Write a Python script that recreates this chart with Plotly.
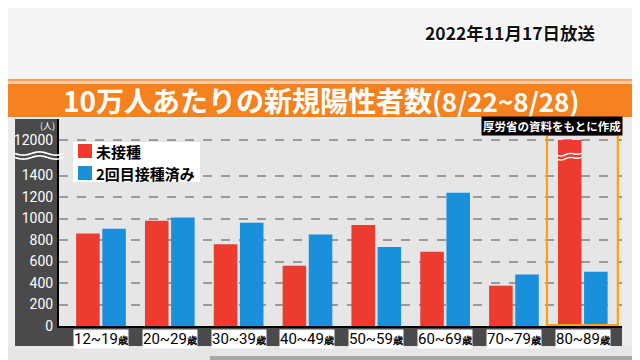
import math
import plotly.graph_objects as go

# ---------------- data ----------------
categories = ["12~19歳", "20~29歳", "30~39歳", "40~49歳",
              "50~59歳", "60~69歳", "70~79歳", "80~89歳"]
unvaccinated = [860, 980, 760, 560, 940, 690, 375, 12000]     # 未接種
vaccinated_2 = [905, 1010, 960, 850, 735, 1240, 480, 505]     # 2回目接種済み
ytick_values = [0, 200, 400, 600, 800, 1000, 1200, 1400, 12000]
ytick_labels = ["0", "200", "400", "600", "800", "1000", "1200", "1400", "12000"]

title_main = "10万人あたりの新規陽性者数"
title_period = "(8/22~8/28)"
broadcast = "2022年11月17日放送"
source = "厚労省の資料をもとに作成"
unit = "(人)"
series_names = ["未接種", "2回目接種済み"]

# ---------------- layout geometry (page pixels) ----------------
OFF = 8                      # page body margin in the browser
W, H = 640 - OFF, 360 - OFF
PL, PR, PT, PB = 59, 622, 119, 326
PX_PER_200 = 21.5
Y_MAX = (PB - PT) / PX_PER_200 * 200
BREAK_LOW = 1400
BREAK_DISPLAY = 1730          # display position of the value 12000
X0, X1 = -0.61, 7.57

RED = "#ee3b2f"
BLUE = "#1a8fdb"
DARK = "#4a4a4a"
JP = "Noto Sans CJK JP"
NUM = "Roboto, Arial, sans-serif"


def disp(v):
    """broken-axis transform: values above the break sit at the top tick"""
    return v if v <= BREAK_LOW else BREAK_DISPLAY + (v - 12000) / 50.0


def xp(px):
    return (px - PL) / (PR - PL)


def yp(py):
    return (PB - py) / (PB - PT)


def wave(x_a, x_b, y_c, amp=1.6, n=24, tilt=0.0):
    pts = []
    for i in range(n + 1):
        t = i / n
        x = x_a + (x_b - x_a) * t
        y = y_c + amp * math.sin(t * 2 * math.pi * 1.5) - tilt * t
        pts.append((xp(x), yp(y)))
    return "M" + " L".join(f"{a:.5f},{b:.5f}" for a, b in pts)


def rect(x0, x1, y0, y1, color, layer="below"):
    return dict(type="rect", xref="paper", yref="paper", layer=layer,
                x0=xp(x0), x1=xp(x1), y0=yp(y1), y1=yp(y0),
                fillcolor=color, line_width=0)


fig = go.Figure()
fig.add_trace(go.Bar(x=categories, y=[disp(v) for v in unvaccinated],
                     name=series_names[0], marker_color=RED,
                     marker_line_width=0, showlegend=False))
fig.add_trace(go.Bar(x=categories, y=[disp(v) for v in vaccinated_2],
                     name=series_names[1], marker_color=BLUE,
                     marker_line_width=0, showlegend=False))

shapes = []
shapes.append(rect(0, W + OFF, 0, 79, "#f4f4f4"))
# orange banner
shapes.append(rect(0, W + OFF, 79, 81, "#f3a061"))
shapes.append(rect(0, W + OFF, 81, 84, "#f8c9a0"))
shapes.append(rect(0, W + OFF, 84, 117, "#f5821f"))
# left dark panel and bottom dark strip
shapes.append(rect(15, PL, 119, 346, DARK))
shapes.append(rect(15, PR, PB, 346, DARK))
# bottom decoration
shapes.append(rect(0, W + OFF, 346, 360, "#e6e6e6"))
shapes.append(rect(210, W + OFF, 356, 360, "#a8a8a8"))
# axis break marks on the y panel
for yy in (153.5, 157.5):
    shapes.append(dict(type="path", xref="paper", yref="paper", layer="above",
                       path=wave(15, 64, yy), line=dict(color="white", width=1.6)))
# highlight frame around 80~89
cat_w = (PR - PL) / (X1 - X0)


def cx(i):
    return PL + (i - X0) * cat_w


shapes.append(dict(type="rect", xref="paper", yref="paper", layer="above",
                   x0=xp(cx(7) - 0.52 * cat_w), x1=xp(cx(7) + 0.51 * cat_w),
                   y0=yp(PB - 1), y1=yp(135),
                   fillcolor="rgba(0,0,0,0)", line=dict(color="#f5a31a", width=2.2)))
# break on the tall red bar
slot = (1 - 0.24) / 2 * cat_w
rc = cx(7) - slot / 2
for yy in (155.5, 159.5):
    shapes.append(dict(type="path", xref="paper", yref="paper", layer="above",
                       path=wave(rc - slot * 0.47, rc + slot * 0.47, yy, amp=0.8, tilt=2.5),
                       line=dict(color="white", width=1.5)))
# legend box and swatches
shapes.append(rect(73, 200, 142, 182, "white", layer="above"))
shapes.append(rect(78, 92, 144, 158, RED, layer="above"))
shapes.append(rect(78, 92, 166, 180, BLUE, layer="above"))

annotations = []
annotations.append(dict(xref="paper", yref="paper", x=xp(321), y=yp(100),
                        xanchor="center", yanchor="middle", showarrow=False,
                        text=f"<b>{title_main}<span style='font-size:26px'>{title_period}</span></b>",
                        font=dict(family=JP, size=28, color="white")))
annotations.append(dict(xref="paper", yref="paper", x=xp(598), y=yp(33),
                        xanchor="right", yanchor="middle", showarrow=False,
                        text=f"<b>{broadcast}</b>",
                        font=dict(family=JP, size=17.5, color="#111111",
                                  shadow="1px 1px 0 white, -1px -1px 0 white, 1px -1px 0 white, -1px 1px 0 white")))
annotations.append(dict(xref="paper", yref="paper", x=xp(623), y=yp(125.5),
                        xanchor="right", yanchor="middle", showarrow=False,
                        text=f"<b>{source}</b>", bgcolor="black", borderpad=1,
                        font=dict(family=JP, size=11.5, color="white")))
annotations.append(dict(xref="paper", yref="paper", x=xp(47), y=yp(125),
                        xanchor="center", yanchor="middle", showarrow=False,
                        text=unit, font=dict(family=JP, size=9, color="white")))
for name, yy in zip(series_names, (151, 173)):
    annotations.append(dict(xref="paper", yref="paper", x=xp(94), y=yp(yy),
                            xanchor="left", yanchor="middle", showarrow=False,
                            text=f"<b>{name}</b>",
                            font=dict(family=JP, size=15, color="black")))
for c in categories:
    num, suffix = c[:-1], c[-1]
    annotations.append(dict(xref="x", yref="paper", x=c, y=yp(338.5),
                            xanchor="center", yanchor="middle", showarrow=False,
                            text=f"{num}<span style='font-size:10px'><b>{suffix}</b></span>",
                            bgcolor="white", borderpad=0,
                            font=dict(family=NUM, size=15, color="black")))

fig.update_layout(
    width=W, height=H,
    margin=dict(l=PL - OFF, r=W + OFF - PR, t=PT - OFF, b=H + OFF - PB, pad=0,
                autoexpand=False),
    paper_bgcolor="#ececec",
    plot_bgcolor="#e6e6e6",
    barmode="group", bargap=0.24, bargroupgap=0.1,
    showlegend=False,
    shapes=shapes, annotations=annotations,
    xaxis=dict(range=[X0, X1], showticklabels=False, ticks="",
               showgrid=False, zeroline=False, automargin=False,
               showline=True, linecolor="black", linewidth=2),
    yaxis=dict(range=[0, Y_MAX], automargin=False,
               tickvals=[disp(v) for v in ytick_values], ticktext=ytick_labels,
               tickfont=dict(family=NUM, size=14, color="white"),
               showgrid=True, gridcolor="#9a9a9a", gridwidth=1.5, griddash="dash",
               zeroline=False, ticks="", ticklabelstandoff=1,
               showline=True, linecolor="black", linewidth=2),
)

fig.write_html("out.html")
